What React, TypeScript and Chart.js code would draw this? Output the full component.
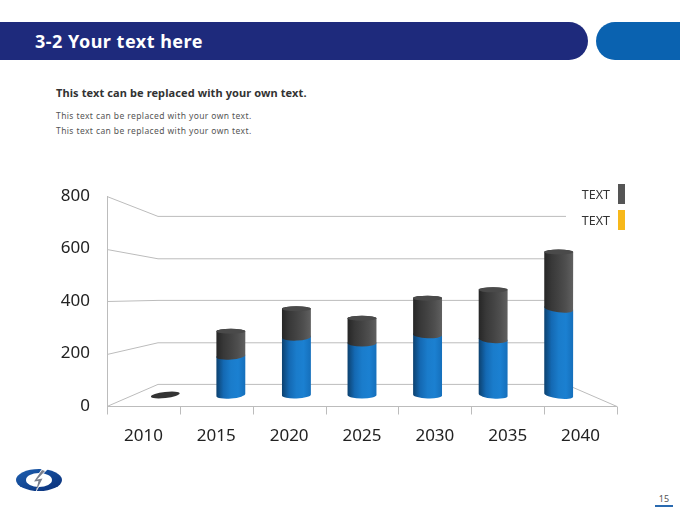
import React, { useEffect, useRef } from "react";
import Chart from "chart.js/auto";

// chart values
const years = ["2010", "2015", "2020", "2025", "2030", "2035", "2040"];
const blueValues = [0, 165, 245, 220, 255, 235, 365];
const grayValues = [0, 105, 120, 105, 155, 210, 240];
const yTicks = { min: 0, max: 800, step: 200 };
const legendItems = [
  { label: "TEXT", color: "#555555" },
  { label: "TEXT", color: "#f7b81a" },
];

// perspective settings
const BACK = 0.8; // back wall scale
const BAR = 0.9; // depth of the cylinders
const EYE = 0.476; // eye level as fraction of the plot height
const GRID = "#bcbcbc";

const project = (chart: any, x: number, y: number, s: number) => {
  const { left, right, top, bottom } = chart.chartArea;
  const vx = (left + right) / 2;
  const vy = top + (bottom - top) * EYE;
  return [vx + s * (x - vx), vy + s * (y - vy), vx];
};

const line = (ctx: any, x1: number, y1: number, x2: number, y2: number) => {
  ctx.beginPath();
  ctx.moveTo(x1, y1);
  ctx.lineTo(x2, y2);
  ctx.stroke();
};

const drawFrame = (chart: any) => {
  const ctx = chart.ctx;
  const { left, right, top, bottom } = chart.chartArea;
  const yScale = chart.scales.y;
  const xScale = chart.scales.x;
  ctx.save();
  ctx.strokeStyle = GRID;
  ctx.lineWidth = 1;
  yScale.ticks.forEach((t: any) => {
    const py = Math.round(yScale.getPixelForValue(t.value)) + 0.5;
    const [bx, by] = project(chart, left, py, BACK);
    const [rx] = project(chart, right, py, BACK);
    line(ctx, left, py, bx, by);
    line(ctx, bx, by, rx, by);
  });
  line(ctx, left + 0.5, top, left + 0.5, bottom);
  const fb = Math.round(bottom) + 0.5;
  line(ctx, left, fb, right, fb);
  const [brx, bry] = project(chart, right, fb, BACK);
  line(ctx, right, fb, brx, bry);
  const step = xScale.getPixelForValue(1) - xScale.getPixelForValue(0);
  for (let i = 0; i <= years.length; i++) {
    const tx = Math.round(xScale.getPixelForValue(i) - step / 2) + 0.5;
    line(ctx, tx, fb, tx, fb + 8);
  }
  ctx.restore();
};

const fills: any = {
  0: ["#0c416f", "#1469b3", "#1a7ccb", "#1b80d1", "#156fbb"],
  1: ["#262626", "#383838", "#434343", "#4f4f4f", "#606060"],
};
const caps: any = { 0: "#2a86d2", 1: "#4a4a4a" };

const drawCylinders = (chart: any) => {
  const ctx = chart.ctx;
  const metas = [chart.getDatasetMeta(0), chart.getDatasetMeta(1)];
  const ry = 3.5;
  years.forEach((_, i) => {
    let topSeg = -1;
    metas.forEach((m: any, d: number) => {
      const el = m.data[i];
      if (el && el.base - el.y > 0.5) topSeg = d;
    });
    metas.forEach((m: any, d: number) => {
      const el = m.data[i];
      if (!el) return;
      const [xc, yt, vx] = project(chart, el.x, el.y, BAR);
      const [, yb] = project(chart, el.x, el.base, BAR);
      const hw = (el.width / 2) * BAR;
      const rot = (xc - vx) * 0.0006;
      ctx.save();
      if (topSeg < 0) {
        if (d === 1) {
          ctx.fillStyle = "#333333";
          ctx.beginPath();
          ctx.ellipse(xc, yb, hw, 3, rot, 0, Math.PI * 2);
          ctx.fill();
        }
        ctx.restore();
        return;
      }
      if (yb - yt <= 0.5) {
        ctx.restore();
        return;
      }
      const g = ctx.createLinearGradient(xc - hw, 0, xc + hw, 0);
      const cs = fills[d];
      cs.forEach((c: string, k: number) => g.addColorStop(k / (cs.length - 1), c));
      ctx.fillStyle = g;
      ctx.beginPath();
      ctx.moveTo(xc - hw, yt);
      ctx.lineTo(xc - hw, yb);
      ctx.ellipse(xc, yb, hw, ry, rot, Math.PI, 0, true);
      ctx.lineTo(xc + hw, yt);
      ctx.ellipse(xc, yt, hw, d === topSeg ? 2.5 : ry, d === topSeg ? 0 : rot, 0, Math.PI, true);
      ctx.closePath();
      ctx.fill();
      if (d === topSeg) {
        ctx.fillStyle = caps[d];
        ctx.beginPath();
        ctx.ellipse(xc, yt, hw, 2.5, 0, 0, Math.PI * 2);
        ctx.fill();
      }
      ctx.restore();
    });
  });
};

const pseudo3d = {
  id: "pseudo3d",
  beforeDatasetsDraw(chart: any) {
    drawFrame(chart);
    drawCylinders(chart);
    return false;
  },
};

const Cylinders = () => {
  const chartRef: any = useRef(null);
  const chartInstance: any = useRef(null);

  useEffect(() => {
    if (chartRef.current) {
      const ctx = chartRef.current.getContext("2d");
      chartInstance.current = new Chart(ctx, {
        type: "bar",
        data: {
          labels: years,
          datasets: [
            { label: legendItems[1].label, data: blueValues, backgroundColor: "#1a7acb", stack: "s" },
            { label: legendItems[0].label, data: grayValues, backgroundColor: "#444444", stack: "s" },
          ],
        },
        options: {
          responsive: true,
          maintainAspectRatio: false,
          animation: false,
          events: [],
          layout: { padding: { top: 26, right: 63, left: 0, bottom: 0 } },
          plugins: { legend: { display: false }, tooltip: { enabled: false } },
          datasets: { bar: { barPercentage: 0.9, categoryPercentage: 0.49 } },
          scales: {
            x: {
              stacked: true,
              grid: { display: false },
              border: { display: false },
              ticks: { color: "#222", padding: 12, font: { family: "'Noto Sans', sans-serif", size: 17 } },
              afterFit: (s: any) => {
                s.height = 54;
              },
            },
            y: {
              stacked: true,
              min: yTicks.min,
              max: yTicks.max,
              grid: { display: false },
              border: { display: false },
              ticks: {
                stepSize: yTicks.step,
                color: "#222",
                padding: 9,
                font: { family: "'Noto Sans', sans-serif", size: 17 },
              },
              afterFit: (s: any) => {
                s.width = 107;
              },
            },
          },
        },
        plugins: [pseudo3d],
      });
    }

    return () => {
      if (chartInstance.current) {
        chartInstance.current.destroy();
      }
    };
  }, []);

  return (
    <div style={{ position: "absolute", left: 0, top: 170, width: 680, height: 290 }}>
      <canvas ref={chartRef}></canvas>
    </div>
  );
};

const Logo = () => (
  <svg width="52" height="34" viewBox="0 0 52 34" style={{ position: "absolute", left: 13, top: 463 }}>
    <defs>
      <linearGradient id="lg" x1="0" y1="0" x2="1" y2="1">
        <stop offset="0" stopColor="#1d5fb0" />
        <stop offset="1" stopColor="#0a2f78" />
      </linearGradient>
    </defs>
    <ellipse cx="26" cy="17" rx="23" ry="11" fill="url(#lg)" />
    <ellipse cx="26" cy="17" rx="13" ry="7" fill="#fff" />
    <polygon points="30,4 35,6 25,16 31,15 22,31 26,18 20,19" fill="#fff" />
    <polygon points="29,7 32,8 24,16.5 29.5,15.5 23,28 25.5,18 21,18.5" fill="#7a7f8c" />
  </svg>
);

export default function App() {
  useEffect(() => {
    document.body.style.margin = "0";
  }, []);
  const font = "'Noto Sans', 'Open Sans', sans-serif";
  return (
    <div style={{ position: "relative", width: 680, height: 510, background: "#fff", overflow: "hidden", fontFamily: font }}>
      <div style={{ position: "absolute", left: 0, top: 22, width: 588, height: 38, background: "#1e2a7c", borderRadius: "0 19px 19px 0" }} />
      <div style={{ position: "absolute", left: 596, top: 22, width: 110, height: 38, background: "#0a62b0", borderRadius: 19 }} />
      <div style={{ position: "absolute", left: 35, top: 22, height: 38, lineHeight: "38px", color: "#fff", fontSize: 18, fontWeight: 700, letterSpacing: 0.5 }}>
        3-2 Your text here
      </div>
      <div style={{ position: "absolute", left: 56, top: 85, fontSize: 11, fontWeight: 700, color: "#333", letterSpacing: 0.1 }}>
        This text can be replaced with your own text.
      </div>
      <div style={{ position: "absolute", left: 56, top: 108, fontSize: 8.5, color: "#555", lineHeight: "15px", letterSpacing: 0.4 }}>
        <div>This text can be replaced with your own text.</div>
        <div>This text can be replaced with your own text.</div>
      </div>
      <Cylinders />
      {legendItems.map((it, k) => (
        <div key={k} style={{ position: "absolute", left: 560, top: 184 + k * 26, width: 65, height: 20, display: "flex", alignItems: "center", justifyContent: "flex-end" }}>
          <span style={{ fontSize: 12.5, color: "#333", marginRight: 8 }}>{it.label}</span>
          <span style={{ display: "inline-block", width: 7, height: 20, background: it.color }} />
        </div>
      ))}
      <Logo />
      <div style={{ position: "absolute", left: 655, top: 493, width: 18, textAlign: "center", fontSize: 9, color: "#555", borderBottom: "2px solid #2a6ab0", lineHeight: "12px" }}>
        15
      </div>
    </div>
  );
}
